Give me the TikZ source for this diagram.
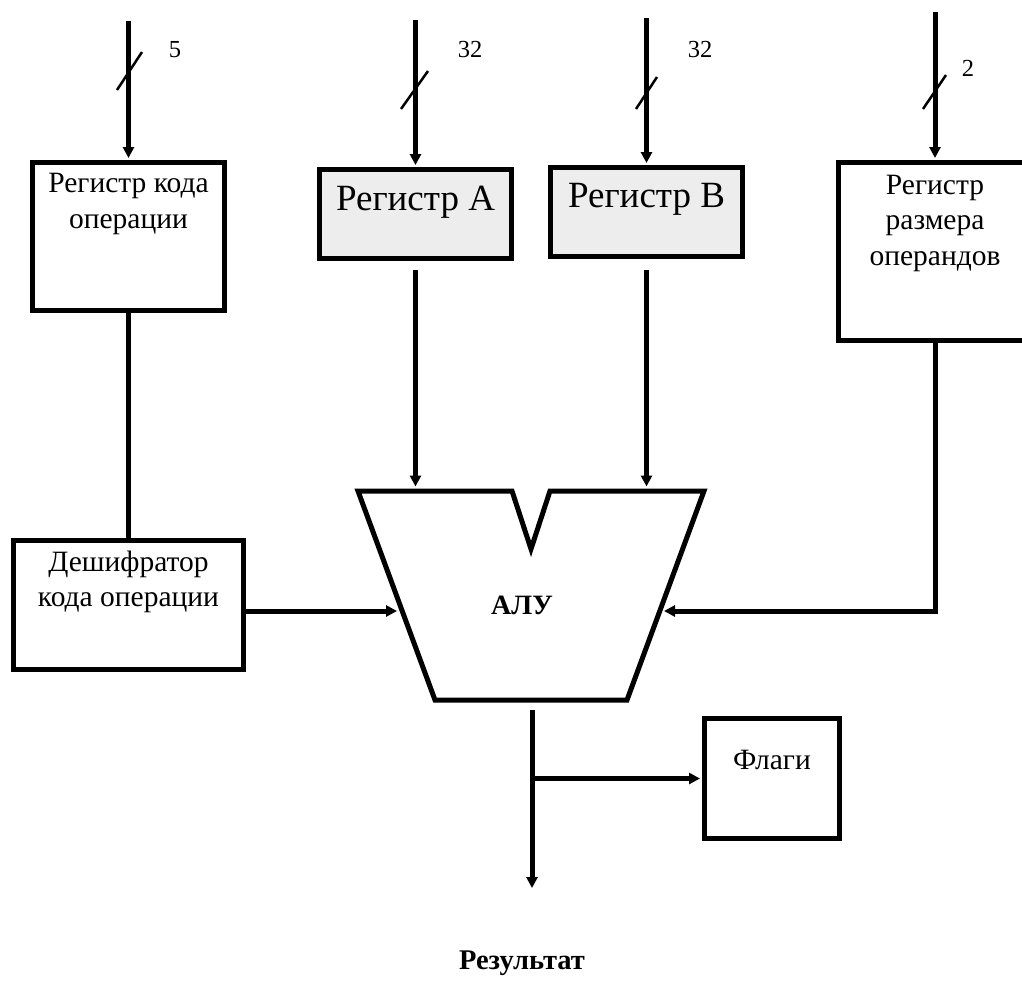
\documentclass[tikz,border=0pt]{standalone}
\usepackage{fontspec}
\setmainfont{Liberation Serif}
\usetikzlibrary{arrows.meta}
\definecolor{regfill}{RGB}{237,237,237}
\begin{document}
\begin{tikzpicture}[x=1pt,y=-1pt,
  box/.style={draw=black, line width=5pt, inner sep=0pt, rectangle},
  lbl/.style={font=\fontsize{29.5}{35.5}\selectfont, align=center, inner sep=0pt},
  big/.style={font=\fontsize{37}{44}\selectfont, inner sep=0pt},
  num/.style={font=\fontsize{24.5}{28}\selectfont, inner sep=0pt},
  boldlbl/.style={font=\bfseries\fontsize{28}{32}\selectfont, inner sep=0pt},
  bus/.style={line width=5pt},
  arr/.style={line width=5pt, -{Triangle[length=11pt,width=11pt]}, shorten >=2pt},
  slash/.style={line width=2.5pt},
]
\clip (0,0) rectangle (1022,980);
\fill[white] (0,0) rectangle (1022,980);

% boxes
\node[box, minimum width=192pt, minimum height=148pt] (opreg) at (128.5,236.5) {};
\node[lbl] (opregT) at (128.5,204) {Регистр кода\\операции};
\node[box, fill=regfill, minimum width=192pt, minimum height=89pt] (regA) at (415.5,214) {};
\node[big, anchor=base] (regAT) at (415.5,210) {Регистр А};
\node[box, fill=regfill, minimum width=192pt, minimum height=89pt] (regB) at (646.5,212) {};
\node[big, anchor=base] (regBT) at (646.5,207) {Регистр В};
\node[box, minimum width=193pt, minimum height=178pt] (sizereg) at (935,251.5) {};
\node[lbl] (sizeregT) at (935,223) {Регистр\\размера\\операндов};
\node[box, minimum width=230pt, minimum height=129pt] (dec) at (128.5,605) {};
\node[lbl] (decT) at (128.5,582) {Дешифратор\\кода операции};
\node[box, minimum width=135pt, minimum height=120pt] (flags) at (772,778.5) {};
\node[lbl] (flagsT) at (772,760) {Флаги};

% ALU
\draw[line width=5pt] (358,491) -- (512,491) -- (531,549) -- (550,491) -- (704,491) -- (627,700) -- (435,700) -- cycle;
\node[boldlbl] (alu) at (522,605) {АЛУ};
\coordinate (aluA) at (415.5,488.5);
\coordinate (aluB) at (646.5,488.5);
\coordinate (aluL) at (399,611);
\coordinate (aluR) at (662,611);
\coordinate (aluOut) at (532,710);

% inputs
\coordinate (inOp) at (128.5,21);
\coordinate (inA) at (415.5,20);
\coordinate (inB) at (646.5,18);
\coordinate (inS) at (935,12);
\draw[arr] (inOp) -- (opreg.north);
\draw[arr] (inA) -- (regA.north);
\draw[arr] (inB) -- (regB.north);
\draw[arr] (inS) -- (sizereg.north);
\draw[slash] (117,90) -- (142,52);
\draw[slash] (401,109) -- (428,71);
\draw[slash] (636,109) -- (657,77);
\draw[slash] (923,109) -- (946,75);
\node[num] (nOp) at (175,50) {5};
\node[num] (nA) at (470,50) {32};
\node[num] (nB) at (700,50) {32};
\node[num] (nS) at (968,68) {2};

% connections
\draw[bus] (opreg.south) -- (dec.north);
\coordinate (aOut) at (415.5,270);
\coordinate (bOut) at (646.5,270);
\draw[arr] (aOut) -- (aluA);
\draw[arr] (bOut) -- (aluB);
\draw[arr] (dec.east |- aluL) -- (aluL);
\draw[arr] (sizereg.south) |- (aluR);

% output
\coordinate (resEnd) at (532,890);
\coordinate (br) at (532,778.5);
\draw[arr] (aluOut) -- (resEnd);
\draw[arr] (br) -- (br -| flags.west);
\node[boldlbl, font=\bfseries\fontsize{28.5}{32}\selectfont] (res) at (522,963) {Результат};
\end{tikzpicture}
\end{document}
